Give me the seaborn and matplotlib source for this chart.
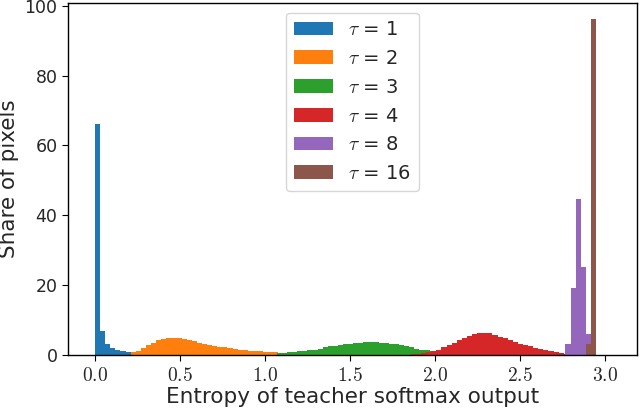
import numpy as np
import pandas as pd
import matplotlib
matplotlib.use('Agg')
import matplotlib.pyplot as plt
import seaborn as sns

BIN_WIDTH = 0.03

taus = [1, 2, 3, 4, 8, 16]

# left edge of the first histogram bin for each temperature
first_bin = [0.0, 0.21, 1.07, 1.86, 2.77, 2.89]

# share of pixels (%) per entropy bin
share_tau1 = [66.0, 6.9, 3.1, 2.1, 1.4, 1.05, 0.8, 0.6, 0.5, 0.4]
share_tau2 = [0.8, 1.3, 2.1, 2.9, 3.6, 4.2, 4.7, 4.9, 5.0, 4.9, 4.7, 4.4,
              4.0, 3.6, 3.3, 3.0, 2.7, 2.4, 2.3, 2.1, 1.8, 1.6, 1.4, 1.3,
              1.15, 1.05, 0.96, 0.86, 0.77, 0.67, 0.57, 0.48, 0.4, 0.33, 0.27, 0.2]
share_tau3 = [0.6, 0.67, 0.77, 0.86, 1.05, 1.25, 1.45, 1.6, 1.9, 2.2, 2.5, 2.6,
              2.8, 3.1, 3.3, 3.45, 3.6, 3.7, 3.7, 3.7, 3.6, 3.45, 3.3, 3.1,
              2.8, 2.5, 2.2, 1.9, 1.6, 1.4, 1.25, 1.15, 1.05, 0.9, 0.7, 0.5]
share_tau4 = [0.2, 0.4, 0.6, 0.9, 1.15, 1.6, 2.2, 2.9, 3.5, 4.2, 4.9, 5.5,
              6.0, 6.3, 6.4, 6.2, 5.8, 5.3, 4.8, 4.3, 3.8, 3.3, 2.9, 2.5,
              2.1, 1.7, 1.4, 1.15, 0.86, 0.57, 0.3]
share_tau8 = [3.2, 19.3, 44.7, 25.2, 6.1]
share_tau16 = [3.2, 96.2]

shares = [share_tau1, share_tau2, share_tau3, share_tau4, share_tau8, share_tau16]

x_ticks = [0.0, 0.5, 1.0, 1.5, 2.0, 2.5, 3.0]
y_ticks = [0, 20, 40, 60, 80, 100]

sns.set_style('ticks')
plt.rcParams['font.family'] = ['DejaVu Sans']
plt.rcParams['mathtext.fontset'] = 'cm'

colors = sns.color_palette('tab10', len(taus))

fig, ax = plt.subplots(figsize=(6.4, 4.12), dpi=100)

# one histplot per temperature so that later ones are drawn on top
for tau, start, share, color in zip(taus, first_bin, shares, colors):
    edges = start + BIN_WIDTH * np.arange(len(share) + 1)
    centers = (edges[:-1] + edges[1:]) / 2
    df = pd.DataFrame({'entropy': centers, 'share': share})
    sns.histplot(df, x='entropy', weights='share', bins=list(edges), color=color,
                 alpha=1, linewidth=0,
                 label=r'$\tau$ = %d' % tau, ax=ax)

ax.set_xlim(-0.16, 3.19)
ax.set_ylim(0, 100.8)
ax.set_xticks(x_ticks)
ax.set_xticklabels([r'$%.1f$' % t for t in x_ticks], fontsize=14)
ax.set_yticks(y_ticks)
ax.set_yticklabels([str(t) for t in y_ticks], fontsize=12.5)
ax.tick_params(direction='out', length=4, color='black')
for spine in ax.spines.values():
    spine.set_color('black')
    spine.set_linewidth(1.0)

ax.set_xlabel('Entropy of teacher softmax output', fontsize=15.5, labelpad=2)
ax.set_ylabel('Share of pixels', fontsize=15.5, labelpad=4)

ax.legend(loc='upper center', fontsize=14, borderaxespad=0.5)

fig.subplots_adjust(left=0.106, right=0.995, bottom=0.138, top=0.993)
fig.savefig('out.png', dpi=100)
